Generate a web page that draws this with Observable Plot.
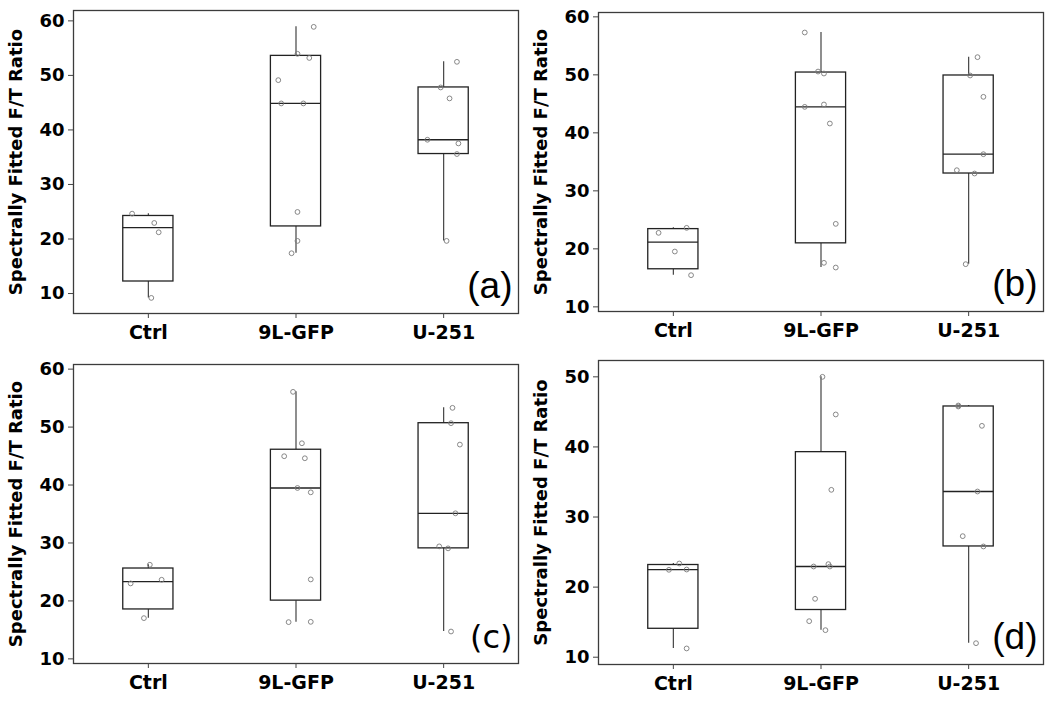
<!DOCTYPE html>
<html>
<head>
<meta charset="utf-8">
<script src="https://cdn.jsdelivr.net/npm/d3@7"></script>
<script src="https://cdn.jsdelivr.net/npm/@observablehq/plot@0.6"></script>
<style>
  html, body { margin: 0; padding: 0; background: #fff; }
  #grid { display: grid; grid-template-columns: 525px 525px; width: 1050px; }
  #grid svg { display: block; }
</style>
</head>
<body>
<div id="grid"></div>
<script>
// ---- categories and labels ----
const categories = ["Ctrl", "9L-GFP", "U-251"];
const panelLabels = ["(a)", "(b)", "(c)", "(d)"];
const yAxisLabel = "Spectrally Fitted F/T Ratio";
const yTicks60 = [10, 20, 30, 40, 50, 60];
const yTicks50 = [10, 20, 30, 40, 50];

// ---- panel (a) ----
const aCtrl = [24.65, 22.94, 21.23, 9.2];
const aCtrlJit = [-0.11, 0.04, 0.07, 0.02];
const a9L = [58.9, 53.96, 53.2, 49.13, 44.86, 44.86, 24.96, 19.65, 17.39];
const a9LJit = [0.12, 0.01, 0.09, -0.12, -0.10, 0.05, 0.01, 0.01, -0.03];
const aU = [52.49, 47.79, 45.78, 38.2, 37.53, 35.58, 19.65];
const aUJit = [0.09, -0.02, 0.04, -0.11, 0.10, 0.09, 0.02];

// ---- panel (b) ----
const bCtrl = [22.76, 23.62, 19.54, 15.46];
const bCtrlJit = [-0.10, 0.09, 0.01, 0.12];
const b9L = [57.3, 50.57, 50.23, 44.48, 44.89, 41.61, 24.31, 17.59, 16.78];
const b9LJit = [-0.11, -0.02, 0.02, -0.11, 0.02, 0.06, 0.10, 0.02, 0.10];
const bU = [53.05, 49.89, 46.21, 36.32, 33.56, 32.99, 17.36];
const bUJit = [0.06, 0.01, 0.10, 0.10, -0.08, 0.04, -0.02];

// ---- panel (c) ----
const cCtrl = [26.24, 23.02, 23.65, 17.03];
const cCtrlJit = [0.01, -0.12, 0.09, -0.03];
const c9L = [56.08, 47.21, 44.97, 44.62, 39.49, 38.74, 23.71, 16.34, 16.39];
const c9LJit = [-0.02, 0.04, -0.08, 0.06, 0.01, 0.10, 0.10, -0.05, 0.10];
const cU = [53.32, 50.67, 46.98, 35.12, 29.41, 29.07, 14.72];
const cUJit = [0.06, 0.05, 0.11, 0.08, -0.03, 0.03, 0.05];

// ---- panel (d) ----
const dCtrl = [23.37, 22.47, 22.51, 11.25];
const dCtrlJit = [0.04, -0.03, 0.09, 0.09];
const d9L = [50.0, 44.63, 33.88, 23.28, 22.94, 22.94, 18.33, 15.14, 13.86];
const d9LJit = [0.01, 0.10, 0.07, 0.05, 0.06, -0.05, -0.04, -0.08, 0.03];
const dU = [45.91, 45.77, 43.01, 33.64, 27.27, 25.8, 12.0];
const dUJit = [-0.07, -0.07, 0.09, 0.06, -0.04, 0.10, 0.05];

// ---- per-panel y domains (frame extents) ----
const yDomains = [[6.34, 61.9], [9.2, 60.75], [9.2, 60.8], [8.96, 52.33]];

const panels = [
  {groups: [[aCtrl, aCtrlJit], [a9L, a9LJit], [aU, aUJit]], ticks: yTicks60, h: 354, mt: 10, mb: 41, labelFont: "Liberation Sans", labelSize: 37},
  {groups: [[bCtrl, bCtrlJit], [b9L, b9LJit], [bU, bUJit]], ticks: yTicks60, h: 354, mt: 12, mb: 43, labelFont: "Liberation Sans", labelSize: 37},
  {groups: [[cCtrl, cCtrlJit], [c9L, c9LJit], [cU, cUJit]], ticks: yTicks60, h: 355, mt: 10, mb: 46, labelFont: "DejaVu Sans", labelSize: 32},
  {groups: [[dCtrl, dCtrlJit], [d9L, d9LJit], [dU, dUJit]], ticks: yTicks50, h: 355, mt: 6, mb: 45, labelFont: "Liberation Sans", labelSize: 37}
];

// Minitab-style quartile: position p*(n+1)
function mtbQuantile(sorted, p) {
  const n = sorted.length;
  let pos = p * (n + 1);
  if (pos <= 1) return sorted[0];
  if (pos >= n) return sorted[n - 1];
  const lo = Math.floor(pos), f = pos - lo;
  return sorted[lo - 1] + f * (sorted[lo] - sorted[lo - 1]);
}

const halfBox = 0.17;
const grid = document.getElementById("grid");

panels.forEach((p, pi) => {
  const rows = [];
  const stats = [];
  p.groups.forEach(([vals, jit], gi) => {
    vals.forEach((v, k) => rows.push({g: gi + 1, value: v, jit: jit[k]}));
    const s = vals.slice().sort((a, b) => a - b);
    const q1 = mtbQuantile(s, 0.25), med = mtbQuantile(s, 0.5), q3 = mtbQuantile(s, 0.75);
    const iqr = q3 - q1;
    const lo = d3.min(s.filter(v => v >= q1 - 1.5 * iqr));
    const hi = d3.max(s.filter(v => v <= q3 + 1.5 * iqr));
    stats.push({g: gi + 1, q1, med, q3, lo, hi});
  });

  const chart = Plot.plot({
    width: 525,
    height: p.h,
    marginLeft: 73,
    marginRight: 7,
    marginTop: p.mt,
    marginBottom: p.mb,
    style: {fontFamily: "DejaVu Sans", fontWeight: "bold", color: "#000", background: "#fff"},
    x: {domain: [0.493, 3.507], axis: null},
    y: {domain: yDomains[pi], axis: null},
    marks: [
      Plot.ruleX(stats, {x: "g", y1: "q3", y2: "hi", stroke: "#444", strokeWidth: 1.2}),
      Plot.ruleX(stats, {x: "g", y1: "lo", y2: "q1", stroke: "#444", strokeWidth: 1.2}),
      Plot.rect(stats, {x1: d => d.g - halfBox, x2: d => d.g + halfBox, y1: "q1", y2: "q3", fill: "#fff", stroke: "#222", strokeWidth: 1.3}),
      Plot.ruleY(stats, {x1: d => d.g - halfBox, x2: d => d.g + halfBox, y: "med", stroke: "#222", strokeWidth: 1.3}),
      Plot.dot(rows, {x: d => d.g + d.jit, y: "value", r: 2.4, stroke: "#7a7a7a", strokeWidth: 0.9, fill: "none"}),
      Plot.frame({stroke: "#3c3c3c", strokeWidth: 1.3}),
      Plot.axisY({ticks: p.ticks, tickSize: 5, tickPadding: 4, fontSize: 18, fontWeight: "bold", label: null, stroke: "#444"}),
      Plot.axisX({ticks: [1, 2, 3], tickFormat: i => categories[i - 1], tickSize: 5, tickPadding: 7, fontSize: 19, fontWeight: "bold", label: null, stroke: "#444"}),
      Plot.text([yAxisLabel], {frameAnchor: "left", rotate: -90, dx: -52, lineAnchor: "bottom", textAnchor: "middle", fontSize: 18, fontWeight: "bold", fontFamily: "DejaVu Sans", fill: "#000"}),
      Plot.text([panelLabels[pi]], {frameAnchor: "bottom-right", textAnchor: "end", lineAnchor: "bottom", dx: -6, dy: -16, fontSize: p.labelSize, fontWeight: "normal", fontFamily: p.labelFont, fill: "#000"})
    ]
  });
  grid.appendChild(chart);
});
</script>
</body>
</html>
